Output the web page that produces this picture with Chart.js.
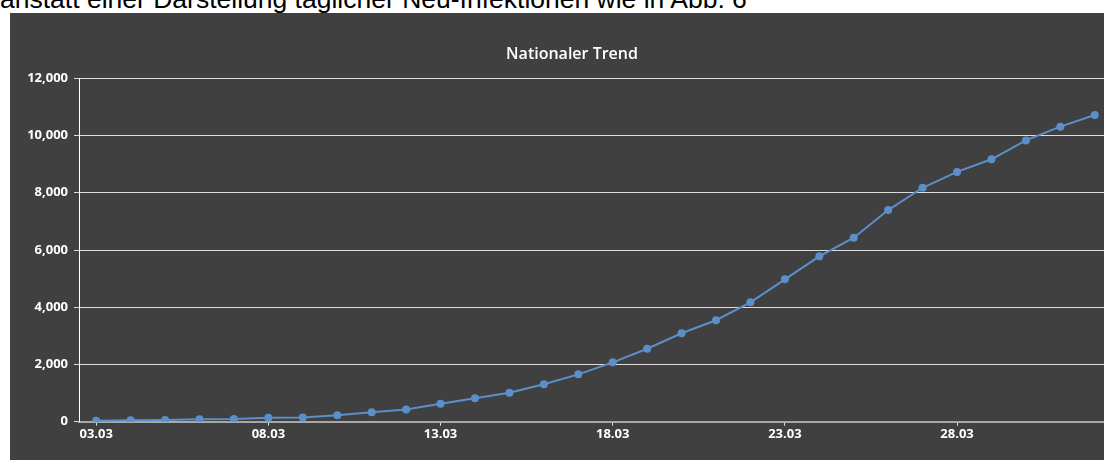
<!DOCTYPE html>
<html>
<head>
<meta charset="utf-8">
<script src="https://cdn.jsdelivr.net/npm/chart.js@4.4.1/dist/chart.umd.min.js"></script>
<style>
  html, body { margin: 0; padding: 0; background: #fff; overflow: hidden; width: 1104px; height: 460px; }
  #caption {
    position: absolute; left: 0; top: -14px; white-space: nowrap;
    font-family: "Liberation Sans", Arial, sans-serif; font-size: 26.5px; line-height: 1; color: #000;
  }
  #panel {
    position: absolute; left: 10px; top: 13px; width: 1124px; height: 447px; background: #404040;
  }
</style>
</head>
<body>
<div id="caption">anstatt einer Darstellung täglicher Neu-Infektionen wie in Abb. 6</div>
<div id="panel"><canvas id="trendChart"></canvas></div>
<script>
// days 03.03 - 01.04
const dayLabels = ['03.03', '04.03', '05.03', '06.03', '07.03', '08.03', '09.03', '10.03', '11.03', '12.03',
    '13.03', '14.03', '15.03', '16.03', '17.03', '18.03', '19.03', '20.03', '21.03', '22.03',
    '23.03', '24.03', '25.03', '26.03', '27.03', '28.03', '29.03', '30.03', '31.03', '01.04'];

// cumulative cases
const caseValues = [35, 55, 60, 85, 95, 140, 150, 225, 330, 430,
    630, 820, 1010, 1310, 1655, 2075, 2550, 3090, 3545, 4170,
    4975, 5780, 6430, 7395, 8175, 8730, 9170, 9830, 10310, 10715];

const yTicksMax = 12000;
const yTicksStep = 2000;

const lineColor = '#5b8fca';
const tickFont = { family: '"Open Sans", sans-serif', size: 13, weight: '700' };

const ctx = document.getElementById('trendChart').getContext('2d');
const chart = new Chart(ctx, {
    type: 'line',
    data: {
        labels: dayLabels,
        datasets: [{
            label: 'Nationaler Trend',
            data: caseValues,
            borderColor: lineColor,
            backgroundColor: lineColor,
            borderWidth: 2,
            pointRadius: 4,
            pointBorderWidth: 0,
            tension: 0
        }]
    },
    options: {
        responsive: true,
        maintainAspectRatio: false,
        animation: false,
        locale: 'en-US',
        layout: {
            padding: 0
        },
        plugins: {
            legend: { display: false },
            tooltip: { enabled: false },
            title: {
                display: true,
                text: 'Nationaler Trend',
                color: '#ffffff',
                font: { family: '"Open Sans", sans-serif', size: 16, weight: '600' },
                padding: { top: 31.4, bottom: 14.7 }
            }
        },
        scales: {
            x: {
                offset: true,
                grid: {
                    drawOnChartArea: false,
                    color: '#e0e0e0',
                    tickLength: 4
                },
                border: { color: '#a8a8a8', width: 2 },
                ticks: {
                    autoSkip: false,
                    maxRotation: 0,
                    padding: 1,
                    color: '#ffffff',
                    font: tickFont,
                    callback: function (value, index) {
                        return index % 5 === 0 ? this.getLabelForValue(value) : null;
                    }
                },
                afterFit: function (scale) { scale.height = 38.3; }
            },
            y: {
                min: 0,
                max: yTicksMax,
                grid: {
                    color: '#dcdcdc',
                    tickLength: 5
                },
                border: { color: '#ffffff', width: 1 },
                ticks: {
                    stepSize: yTicksStep,
                    padding: 6,
                    color: '#ffffff',
                    font: tickFont
                },
                afterFit: function (scale) { scale.width = 69; }
            },
            // empty right axis, only keeps the title centred like the original
            yRight: {
                type: 'linear',
                position: 'right',
                grid: { display: false },
                border: { display: false },
                ticks: { display: false },
                afterFit: function (scale) { scale.width = 22; }
            }
        }
    }
});
</script>
</body>
</html>
